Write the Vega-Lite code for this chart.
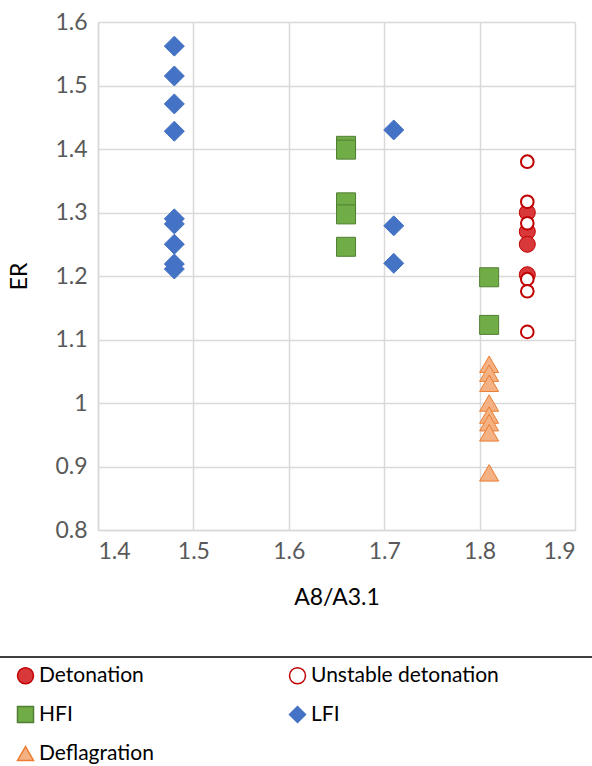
{
  "$schema": "https://vega.github.io/schema/vega-lite/v6.json",
  "autosize": {"type": "none"},
  "padding": {"left": 98, "top": 22, "right": 17, "bottom": 236},
  "width": 477,
  "height": 508,
  "background": "white",
  "config": {
    "font": "Lato",
    "view": {"stroke": null},
    "axis": {
      "gridColor": "#D9D9D9",
      "gridWidth": 1.5,
      "domainColor": "#D9D9D9",
      "domainWidth": 1.5,
      "ticks": false,
      "labelColor": "#595959",
      "labelFontSize": 23,
      "labelFont": "Lato",
      "titleFont": "Lato",
      "titleFontSize": 23,
      "titleFontWeight": "normal",
      "titleColor": "black"
    },
    "legend": {
      "orient": "none",
      "legendX": -98,
      "legendY": 635,
      "columns": 2,
      "direction": "horizontal",
      "titleOrient": "left",
      "titleFontSize": 20,
      "titlePadding": 7,
      "padding": 8,
      "symbolSize": 256,
      "symbolStrokeWidth": 1.5,
      "labelFontSize": 21,
      "labelFont": "Lato",
      "labelColor": "black",
      "labelOffset": 3,
      "rowPadding": 16,
      "columnPadding": 132,
      "labelLimit": 1000
    }
  },
  "data": {
    "values": [
      {"ratio": 1.85, "er": 1.30, "type": "Detonation"},
      {"ratio": 1.85, "er": 1.27, "type": "Detonation"},
      {"ratio": 1.85, "er": 1.25, "type": "Detonation"},
      {"ratio": 1.85, "er": 1.202, "type": "Detonation"},
      {"ratio": 1.85, "er": 1.38, "type": "Unstable detonation"},
      {"ratio": 1.85, "er": 1.317, "type": "Unstable detonation"},
      {"ratio": 1.85, "er": 1.283, "type": "Unstable detonation"},
      {"ratio": 1.85, "er": 1.195, "type": "Unstable detonation"},
      {"ratio": 1.85, "er": 1.176, "type": "Unstable detonation"},
      {"ratio": 1.85, "er": 1.112, "type": "Unstable detonation"},
      {"ratio": 1.66, "er": 1.405, "type": "HFI"},
      {"ratio": 1.66, "er": 1.399, "type": "HFI"},
      {"ratio": 1.66, "er": 1.316, "type": "HFI"},
      {"ratio": 1.66, "er": 1.297, "type": "HFI"},
      {"ratio": 1.66, "er": 1.246, "type": "HFI"},
      {"ratio": 1.81, "er": 1.198, "type": "HFI"},
      {"ratio": 1.81, "er": 1.123, "type": "HFI"},
      {"ratio": 1.48, "er": 1.562, "type": "LFI"},
      {"ratio": 1.48, "er": 1.515, "type": "LFI"},
      {"ratio": 1.48, "er": 1.471, "type": "LFI"},
      {"ratio": 1.48, "er": 1.428, "type": "LFI"},
      {"ratio": 1.48, "er": 1.290, "type": "LFI"},
      {"ratio": 1.48, "er": 1.282, "type": "LFI"},
      {"ratio": 1.48, "er": 1.250, "type": "LFI"},
      {"ratio": 1.48, "er": 1.219, "type": "LFI"},
      {"ratio": 1.48, "er": 1.211, "type": "LFI"},
      {"ratio": 1.71, "er": 1.430, "type": "LFI"},
      {"ratio": 1.71, "er": 1.279, "type": "LFI"},
      {"ratio": 1.71, "er": 1.220, "type": "LFI"},
      {"ratio": 1.81, "er": 1.061, "type": "Deflagration"},
      {"ratio": 1.81, "er": 1.047, "type": "Deflagration"},
      {"ratio": 1.81, "er": 1.031, "type": "Deflagration"},
      {"ratio": 1.81, "er": 1.000, "type": "Deflagration"},
      {"ratio": 1.81, "er": 0.981, "type": "Deflagration"},
      {"ratio": 1.81, "er": 0.969, "type": "Deflagration"},
      {"ratio": 1.81, "er": 0.953, "type": "Deflagration"},
      {"ratio": 1.81, "er": 0.890, "type": "Deflagration"}
    ]
  },
  "encoding": {
    "x": {
      "field": "ratio", "type": "quantitative",
      "scale": {"domain": [1.4, 1.9], "nice": false, "zero": false},
      "axis": {"values": [1.4, 1.5, 1.6, 1.7, 1.8, 1.9], "format": "~g", "labelPadding": 10, "title": "A8/A3.1", "titlePadding": 23}
    },
    "y": {
      "field": "er", "type": "quantitative",
      "scale": {"domain": [0.8, 1.6], "nice": false, "zero": false},
      "axis": {"values": [0.8, 0.9, 1, 1.1, 1.2, 1.3, 1.4, 1.5, 1.6], "format": "~g", "labelPadding": 11, "title": "ER", "titlePadding": 23}
    }
  },
  "layer": [
    {
      "encoding": {
        "shape": {
          "field": "type", "type": "nominal",
          "scale": {
            "domain": ["Detonation", "Unstable detonation", "HFI", "LFI", "Deflagration"],
            "range": ["circle", "circle", "square", "diamond", "triangle-up"]
          },
          "legend": {"title": "\u00a0"}
        },
        "fill": {
          "field": "type", "type": "nominal",
          "scale": {
            "domain": ["Detonation", "Unstable detonation", "HFI", "LFI", "Deflagration"],
            "range": ["#D9383A", "#FFFFFF", "#70AD47", "#4472C4", "#F4B183"]
          },
          "legend": {"title": "\u00a0"}
        },
        "stroke": {
          "field": "type", "type": "nominal",
          "scale": {
            "domain": ["Detonation", "Unstable detonation", "HFI", "LFI", "Deflagration"],
            "range": ["#C00000", "#C00000", "#507E32", "#4472C4", "#ED7D31"]
          },
          "legend": {"title": "\u00a0"}
        }
      },
      "layer": [
        {
          "transform": [{"filter": "datum.type == 'Detonation'"}],
          "mark": {"type": "point", "opacity": 1, "strokeWidth": 1, "size": 256, "clip": false}
        },
        {
          "transform": [{"filter": "datum.type == 'Unstable detonation'"}],
          "mark": {"type": "point", "opacity": 1, "strokeWidth": 2, "size": 160, "clip": false}
        },
        {
          "transform": [{"filter": "datum.type == 'HFI'"}],
          "mark": {"type": "point", "opacity": 1, "strokeWidth": 1, "size": 361, "clip": false}
        },
        {
          "transform": [{"filter": "datum.type == 'LFI'"}],
          "mark": {"type": "point", "opacity": 1, "strokeWidth": 1, "size": 400, "clip": false}
        },
        {
          "transform": [{"filter": "datum.type == 'Deflagration'"}],
          "mark": {"type": "point", "opacity": 1, "strokeWidth": 1, "size": 361, "clip": false}
        }
      ]
    },
    {
      "transform": [{"aggregate": [{"op": "max", "field": "ratio", "as": "ratio"}, {"op": "max", "field": "er", "as": "er"}]}],
      "mark": {"type": "rule", "color": "black", "strokeWidth": 1.5, "clip": false},
      "encoding": {
        "x": {"datum": 1.28, "type": "quantitative"},
        "x2": {"datum": 1.94},
        "y": {"datum": 0.6, "type": "quantitative"}
      }
    }
  ]
}
